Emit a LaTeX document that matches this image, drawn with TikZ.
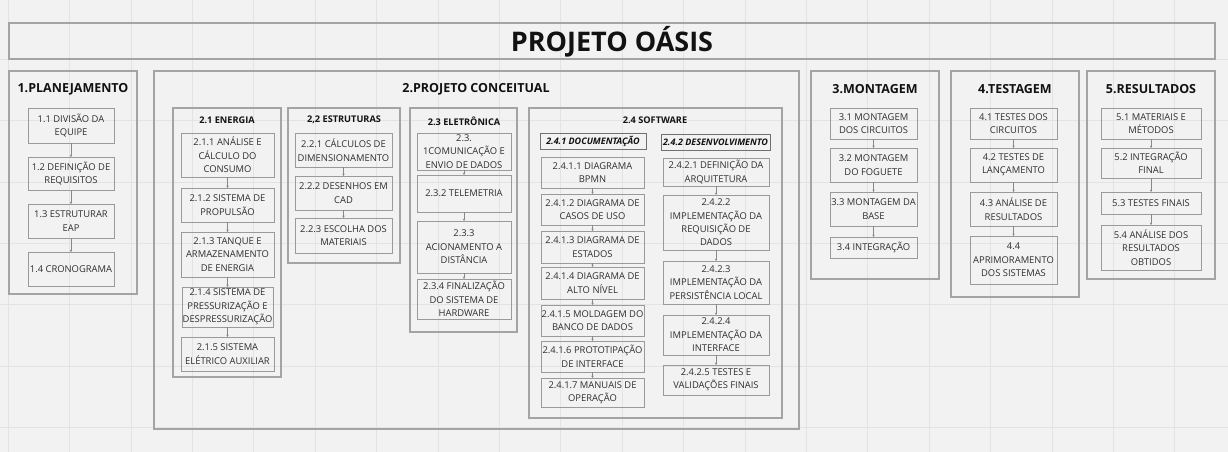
\documentclass[tikz,border=0pt]{standalone}
\usepackage{fontspec}
\setmainfont{Open Sans}
\usetikzlibrary{arrows.meta}
\definecolor{bgc}{HTML}{F2F2F2}
\definecolor{gridc}{HTML}{E3E3E3}
\definecolor{outc}{HTML}{A4A4A4}
\definecolor{itc}{HTML}{9A9A9A}
\definecolor{hdc}{HTML}{707070}
\definecolor{txc}{HTML}{2E2E2E}
\definecolor{ttc}{HTML}{121212}
\definecolor{arc}{HTML}{888888}
\newcommand\mybox[7]{\node[#1, minimum width={(#5-#3)*1pt}, minimum height={(#6-#4)*1pt}] (#2) at ({(#3+#5)/2},{(#4+#6)/2}) {#7};}
\tikzset{
  outer/.style={draw=outc, line width=1.1pt, inner sep=0pt, outer sep=0pt},
  item/.style={draw=itc, line width=0.8pt, inner sep=0pt, outer sep=0pt, align=center, text=txc, font=\fontsize{9.4}{13.4}\selectfont},
  hdr/.style={draw=hdc, line width=0.9pt, inner sep=0pt, outer sep=0pt, align=center, text=ttc, font=\fontsize{9}{11}\selectfont\bfseries\itshape},
  ttl/.style={inner sep=0pt, text=ttc, font=\fontsize{12.5}{14}\selectfont\bfseries},
  subttl/.style={inner sep=0pt, text=ttc, font=\fontsize{9.2}{11}\selectfont\bfseries},
  arr/.style={draw=arc, line width=0.6pt, -{Stealth[length=2.4pt,width=2.4pt]}}
}
\begin{document}
\begin{tikzpicture}[x=1pt,y=-1pt]
\useasboundingbox (0,0) rectangle (1228,452);
\fill[bgc] (0,0) rectangle (1228,452);
\foreach \i in {0,...,19} \draw[gridc, line width=0.6pt] ({8+61.4*\i},0) -- ({8+61.4*\i},452);
\foreach \j in {0,...,7} \draw[gridc, line width=0.6pt] (0,{-2.4+61.4*\j}) -- (1228,{-2.4+61.4*\j});

% title
\mybox{outer}{tbox}{9}{23}{1215}{59}{}
\node[inner sep=0pt, text=ttc, font=\fontsize{27}{30}\selectfont\bfseries] (title) at (612,42) {PROJETO OÁSIS};

% column boxes
\mybox{outer}{c1}{9}{71}{137}{294}{}
\mybox{outer}{c2}{154}{71}{799}{429}{}
\mybox{outer}{c3}{811}{71}{939}{279}{}
\mybox{outer}{c4}{951}{71}{1079}{297}{}
\mybox{outer}{c5}{1087}{71}{1215}{279}{}
\node[ttl] (t1) at (73,89) {1.PLANEJAMENTO};
\node[ttl] (t2) at (476,89) {2.PROJETO CONCEITUAL};
\node[ttl] (t3) at (875,89) {3.MONTAGEM};
\node[ttl] (t4) at (1015,89) {4.TESTAGEM};
\node[ttl] (t5) at (1151,89) {5.RESULTADOS};

% sub groups
\mybox{outer}{g1}{173}{108}{281}{377}{}
\mybox{outer}{g2}{288}{108}{400}{263}{}
\mybox{outer}{g3}{410}{108}{517}{332}{}
\mybox{outer}{g4}{529}{108}{782}{418}{}
\node[subttl] (s1t) at (227,120) {2.1 ENERGIA};
\node[subttl] (s2t) at (344,120) {2,2 ESTRUTURAS};
\node[subttl] (s3t) at (464,121) {2.3 ELETRÔNICA};
\node[subttl] (s4t) at (655,120) {2.4 SOFTWARE};

% column 1
\mybox{item}{p1}{28}{108}{114}{143}{1.1 DIVISÃO DA\\EQUIPE}
\mybox{item}{p2}{28}{157}{114}{190}{1.2 DEFINIÇÃO DE\\REQUISITOS}
\mybox{item}{p3}{28}{204}{114}{238}{1.3 ESTRUTURAR\\EAP}
\mybox{item}{p4}{28}{252}{114}{286}{1.4 CRONOGRAMA}

% 2.1
\mybox{item}{e1}{181}{133}{274}{177}{2.1.1 ANÁLISE E\\CÁLCULO DO\\CONSUMO}
\mybox{item}{e2}{181}{188}{274}{222}{2.1.2 SISTEMA DE\\PROPULSÃO}
\mybox{item}{e3}{181}{232}{274}{277}{2.1.3 TANQUE E\\ARMAZENAMENTO\\DE ENERGIA}
\mybox{item}{e4}{182}{287}{273}{327}{2.1.4 SISTEMA DE\\PRESSURIZAÇÃO E\\DESPRESSURIZAÇÃO}
\mybox{item}{e5}{181}{337}{274}{371}{2.1.5 SISTEMA\\ELÉTRICO AUXILIAR}

% 2.2
\mybox{item}{r1}{295}{133}{392}{167}{2.2.1 CÁLCULOS DE\\DIMENSIONAMENTO}
\mybox{item}{r2}{295}{176}{392}{210}{2.2.2 DESENHOS EM\\CAD}
\mybox{item}{r3}{295}{218}{392}{253}{2.2.3 ESCOLHA DOS\\MATERIAIS}

% 2.3
\mybox{item}{l1}{417}{133}{511}{170}{2.3.\\1COMUNICAÇÃO E\\ENVIO DE DADOS}
\mybox{item}{l2}{417}{175}{511}{212}{2.3.2 TELEMETRIA}
\mybox{item}{l3}{417}{221}{511}{273}{2.3.3\\ACIONAMENTO A\\DISTÂNCIA}
\mybox{item}{l4}{417}{279}{511}{319}{2.3.4 FINALIZAÇÃO\\DO SISTEMA DE\\HARDWARE}

% 2.4.1
\mybox{hdr}{h1}{540}{133}{646}{149}{2.4.1 DOCUMENTAÇÃO}
\mybox{item}{d1}{541}{157}{644}{188}{2.4.1.1 DIAGRAMA\\BPMN}
\mybox{item}{d2}{541}{194}{644}{225}{2.4.1.2 DIAGRAMA DE\\CASOS DE USO}
\mybox{item}{d3}{541}{231}{644}{263}{2.4.1.3 DIAGRAMA DE\\ESTADOS}
\mybox{item}{d4}{541}{267}{644}{299}{2.4.1.4 DIAGRAMA DE\\ALTO NÍVEL}
\mybox{item}{d5}{541}{305}{644}{336}{2.4.1.5 MOLDAGEM DO\\BANCO DE DADOS}
\mybox{item}{d6}{541}{341}{644}{372}{2.4.1.6 PROTOTIPAÇÃO\\DE INTERFACE}
\mybox{item}{d7}{541}{378}{644}{407}{2.4.1.7 MANUAIS DE\\OPERAÇÃO}

% 2.4.2
\mybox{hdr}{h2}{661}{134}{770}{150}{2.4.2 DESENVOLVIMENTO}
\mybox{item}{v1}{663}{158}{769}{186}{2.4.2.1 DEFINIÇÃO DA\\ARQUITETURA}
\mybox{item}{v2}{663}{195}{769}{250}{2.4.2.2\\IMPLEMENTAÇÃO DA\\REQUISIÇÃO DE\\DADOS}
\mybox{item}{v3}{663}{261}{769}{304}{2.4.2.3\\IMPLEMENTAÇÃO DA\\PERSISTÊNCIA LOCAL}
\mybox{item}{v4}{663}{315}{769}{355}{2.4.2.4\\IMPLEMENTAÇÃO DA\\INTERFACE}
\mybox{item}{v5}{663}{365}{769}{395}{2.4.2.5 TESTES E\\VALIDAÇÕES FINAIS}

% column 3
\mybox{item}{m1}{830}{108}{917}{139}{3.1 MONTAGEM\\DOS CIRCUITOS}
\mybox{item}{m2}{830}{148}{917}{182}{3.2 MONTAGEM\\DO FOGUETE}
\mybox{item}{m3}{830}{192}{917}{226}{3.3 MONTAGEM DA\\BASE}
\mybox{item}{m4}{830}{237}{917}{258}{3.4 INTEGRAÇÃO}

% column 4
\mybox{item}{a1}{970}{108}{1057}{139}{4.1 TESTES DOS\\CIRCUITOS}
\mybox{item}{a2}{970}{148}{1057}{182}{4.2 TESTES DE\\LANÇAMENTO}
\mybox{item}{a3}{970}{192}{1057}{226}{4.3 ANÁLISE DE\\RESULTADOS}
\mybox{item}{a4}{970}{236}{1057}{284}{4.4\\APRIMORAMENTO\\DOS SISTEMAS}

% column 5
\mybox{item}{u1}{1101}{108}{1201}{139}{5.1 MATERIAIS E\\MÉTODOS}
\mybox{item}{u2}{1101}{148}{1201}{178}{5.2 INTEGRAÇÃO\\FINAL}
\mybox{item}{u3}{1101}{192}{1201}{214}{5.3 TESTES FINAIS}
\mybox{item}{u4}{1101}{225}{1201}{270}{5.4 ANÁLISE DOS\\RESULTADOS\\OBTIDOS}

% arrows
\foreach \a/\b in {p1/p2,p2/p3,p3/p4,e1/e2,e2/e3,e3/e4,e4/e5,r1/r2,r2/r3,l1/l2,l2/l3,l3/l4,d1/d2,d2/d3,d3/d4,d4/d5,d5/d6,d6/d7,v1/v2,v2/v3,v3/v4,v4/v5,m1/m2,m2/m3,m3/m4,a1/a2,a2/a3,a3/a4,u1/u2,u2/u3,u3/u4}
  \draw[arr] (\a.south) -- (\b.north);
\end{tikzpicture}
\end{document}
